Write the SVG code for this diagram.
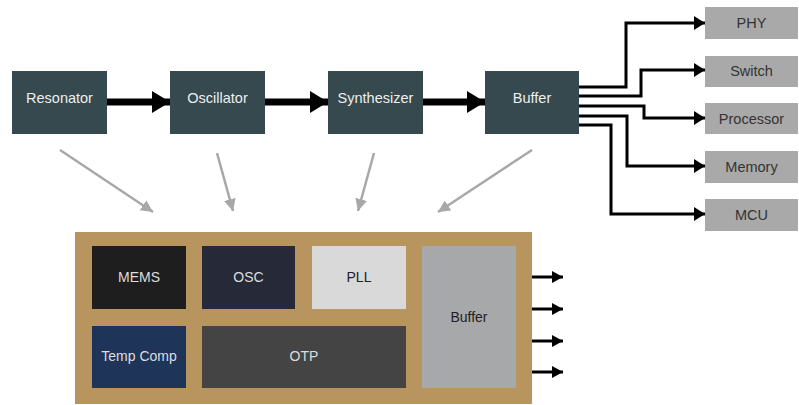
<svg xmlns="http://www.w3.org/2000/svg" width="799" height="405" viewBox="0 0 799 405">
<style>
text{font-family:"Liberation Sans",Arial,sans-serif;font-size:14px;text-anchor:middle}
.top rect{fill:#35494e}
.top text{fill:#eeeeee;font-size:14.5px}
.dst rect{fill:#a9a9a9}
.dst text{fill:#333333;font-size:14.5px}
.thick{stroke:#000;stroke-width:7;fill:none}
.thin{stroke:#000;stroke-width:3;fill:none}
.gray{stroke:#a8a8a8;stroke-width:2.5;fill:none}
.out{stroke:#000;stroke-width:3;fill:none}
</style>
<defs>
<marker id="hThick" markerUnits="userSpaceOnUse" markerWidth="20" markerHeight="24" refX="18" refY="11" orient="auto"><path d="M0,0 L18,11 L0,22 Z" fill="#000"/></marker>
<marker id="hThin" markerUnits="userSpaceOnUse" markerWidth="12" markerHeight="16" refX="11" refY="7" orient="auto"><path d="M0,0 L11,7 L0,14 Z" fill="#000"/></marker>
<marker id="hGray" markerUnits="userSpaceOnUse" markerWidth="14" markerHeight="14" refX="12" refY="6" orient="auto"><path d="M0,0 L12,6 L0,12 Z" fill="#a8a8a8"/></marker>
<marker id="hOut" markerUnits="userSpaceOnUse" markerWidth="13" markerHeight="14" refX="11" refY="6" orient="auto"><path d="M0,0 L11,6 L0,12 Z" fill="#000"/></marker>
</defs>
<rect width="799" height="405" fill="#ffffff"/>

<g id="connectors">
<path class="thick" d="M107,102 H170" marker-end="url(#hThick)"/>
<path class="thick" d="M265,102 H328" marker-end="url(#hThick)"/>
<path class="thick" d="M423,102 H485" marker-end="url(#hThick)"/>
<path class="thin" d="M579,87 H626 V23 H705" marker-end="url(#hThin)"/>
<path class="thin" d="M579,96 H641 V70 H705" marker-end="url(#hThin)"/>
<path class="thin" d="M579,106 H644 V118 H705" marker-end="url(#hThin)"/>
<path class="thin" d="M579,116 H627 V166 H705" marker-end="url(#hThin)"/>
<path class="thin" d="M579,125 H611 V214 H705" marker-end="url(#hThin)"/>
<path class="gray" d="M60,150 L153,212" marker-end="url(#hGray)"/>
<path class="gray" d="M217,153 L233,211" marker-end="url(#hGray)"/>
<path class="gray" d="M374,153 L358,211" marker-end="url(#hGray)"/>
<path class="gray" d="M532,150 L438,212" marker-end="url(#hGray)"/>
<path class="out" d="M516,277 H563" marker-end="url(#hOut)"/>
<path class="out" d="M516,309 H563" marker-end="url(#hOut)"/>
<path class="out" d="M516,341 H563" marker-end="url(#hOut)"/>
<path class="out" d="M516,372 H563" marker-end="url(#hOut)"/>
</g>

<g id="resonator" class="top"><rect x="12" y="71" width="95" height="63"/><text x="59.5" y="103">Resonator</text></g>
<g id="oscillator" class="top"><rect x="170" y="71" width="95" height="63"/><text x="217.5" y="103">Oscillator</text></g>
<g id="synthesizer" class="top"><rect x="328" y="71" width="95" height="63"/><text x="375.5" y="103">Synthesizer</text></g>
<g id="buffer" class="top"><rect x="485" y="71" width="94" height="63"/><text x="532" y="103">Buffer</text></g>

<g id="phy" class="dst"><rect x="705" y="7" width="93" height="32"/><text x="751.5" y="28">PHY</text></g>
<g id="switch" class="dst"><rect x="705" y="56" width="93" height="31"/><text x="751.5" y="76">Switch</text></g>
<g id="processor" class="dst"><rect x="705" y="103" width="93" height="31"/><text x="751.5" y="124">Processor</text></g>
<g id="memory" class="dst"><rect x="705" y="151" width="93" height="32"/><text x="751.5" y="172">Memory</text></g>
<g id="mcu" class="dst"><rect x="705" y="199" width="93" height="32"/><text x="751.5" y="220">MCU</text></g>

<g id="chip"><rect x="75" y="232" width="457" height="172" fill="#b8945f"/></g>
<g id="mems"><rect x="92" y="246" width="94" height="63" fill="#1e1e1e"/><text x="139" y="282" fill="#dddddd">MEMS</text></g>
<g id="osc"><rect x="202" y="246" width="93" height="63" fill="#262a38"/><text x="248.5" y="282" fill="#dddddd">OSC</text></g>
<g id="pll"><rect x="312" y="246" width="94" height="63" fill="#d9d9d9"/><text x="359" y="282" fill="#222222">PLL</text></g>
<g id="buffer2"><rect x="422" y="246" width="94" height="142" fill="#a6a8aa"/><text x="469" y="322" fill="#222222">Buffer</text></g>
<g id="tempcomp"><rect x="92" y="326" width="94" height="62" fill="#1e3459"/><text x="139" y="361" fill="#dddddd">Temp Comp</text></g>
<g id="otp"><rect x="202" y="326" width="204" height="62" fill="#444444"/><text x="304" y="361" fill="#dddddd">OTP</text></g>
</svg>
